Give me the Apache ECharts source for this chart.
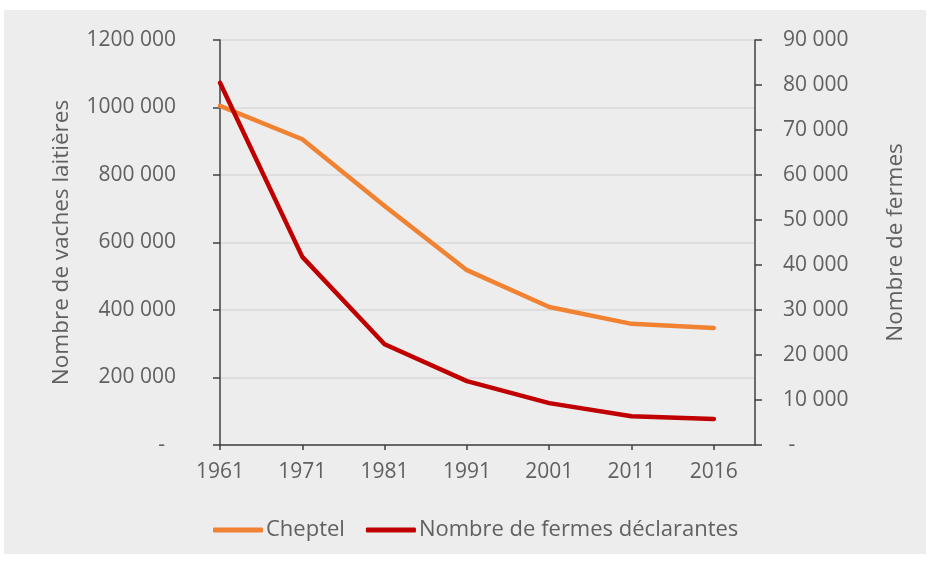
<!DOCTYPE html>
<html>
<head>
<meta charset="utf-8">
<script src="https://cdn.jsdelivr.net/npm/echarts@6/dist/echarts.min.js"></script>
<style>
  html, body { margin: 0; padding: 0; background: #fff; }
  #chart { width: 932px; height: 561px; }
</style>
</head>
<body>
<div id="chart"></div>
<script>
const years = ['1961', '1971', '1981', '1991', '2001', '2011', '2016']
const cheptel = [1005000, 906000, 708000, 518000, 409000, 359000, 347000]
const fermes = [80500, 41800, 22400, 14200, 9300, 6400, 5800]

const textColor = '#606060'
const font = 'Open Sans'

const chart = echarts.init(document.getElementById('chart'))

// Excel style numbers: "1200 000", "90 000", zero shown as "-"
const fmt = (v) => {
  if (v === 0) return '-  '
  const s = String(v)
  return s.slice(0, s.length - 3) + ' ' + s.slice(-3)
}

const option = {
  backgroundColor: '#fff',
  animation: false,
  graphic: [
    {
      type: 'rect',
      z: -10,
      silent: true,
      shape: { x: 4, y: 10, width: 922, height: 544 },
      style: { fill: '#EDEDED' }
    }
  ],
  grid: { left: 220, right: 177, top: 40, bottom: 116 },
  legend: {
    left: 208,
    top: 514,
    itemWidth: 50,
    itemHeight: 5,
    itemGap: 21,
    icon: 'roundRect',
    textStyle: { color: textColor, fontFamily: font, fontSize: 22, padding: [0, 0, 0, -2] },
    data: ['Cheptel', 'Nombre de fermes déclarantes']
  },
  xAxis: {
    type: 'value',
    min: 0,
    max: 6.5,
    splitLine: { show: false },
    axisLine: { lineStyle: { color: '#404040', width: 1.5 } },
    axisTick: { show: true, length: 5, customValues: years.map((y, i) => i), lineStyle: { color: '#404040', width: 1.5 } },
    axisLabel: {
      customValues: years.map((y, i) => i),
      formatter: (v) => years[v],
      color: textColor,
      fontFamily: font,
      fontSize: 21,
      margin: 17
    }
  },
  yAxis: [
    {
      type: 'value',
      min: 0,
      max: 1200000,
      interval: 200000,
      name: 'Nombre de vaches laitières',
      nameLocation: 'middle',
      nameGap: 147,
      nameTextStyle: { color: textColor, fontFamily: font, fontSize: 22.5 },
      axisLine: { show: true, lineStyle: { color: '#404040', width: 1.5 } },
      axisTick: { show: true, length: 7, lineStyle: { color: '#404040', width: 1.5 } },
      axisLabel: { color: textColor, fontFamily: font, fontSize: 21, margin: 44, formatter: fmt },
      splitLine: { lineStyle: { color: '#D9D9D9', width: 1.5 } }
    },
    {
      type: 'value',
      min: 0,
      max: 90000,
      interval: 10000,
      position: 'right',
      name: 'Nombre de fermes',
      nameLocation: 'middle',
      nameGap: 129,
      nameTextStyle: { color: textColor, fontFamily: font, fontSize: 22.5 },
      axisLine: { show: true, lineStyle: { color: '#404040', width: 1.5 } },
      axisTick: { show: true, length: 7, lineStyle: { color: '#404040', width: 1.5 } },
      axisLabel: {
        color: textColor, fontFamily: font, fontSize: 21, margin: 28,
        formatter: (v) => (v === 0 ? ' -' : fmt(v))
      },
      splitLine: { show: false }
    }
  ],
  series: [
    {
      name: 'Cheptel',
      type: 'line',
      yAxisIndex: 0,
      data: cheptel.map((v, i) => [i, v]),
      showSymbol: false,
      color: '#F08232',
      lineStyle: { width: 4.5, cap: 'round', join: 'round' }
    },
    {
      name: 'Nombre de fermes déclarantes',
      type: 'line',
      yAxisIndex: 1,
      data: fermes.map((v, i) => [i, v]),
      showSymbol: false,
      color: '#C00000',
      lineStyle: { width: 4.5, cap: 'round', join: 'round' }
    }
  ]
}

chart.setOption(option)
</script>
</body>
</html>
